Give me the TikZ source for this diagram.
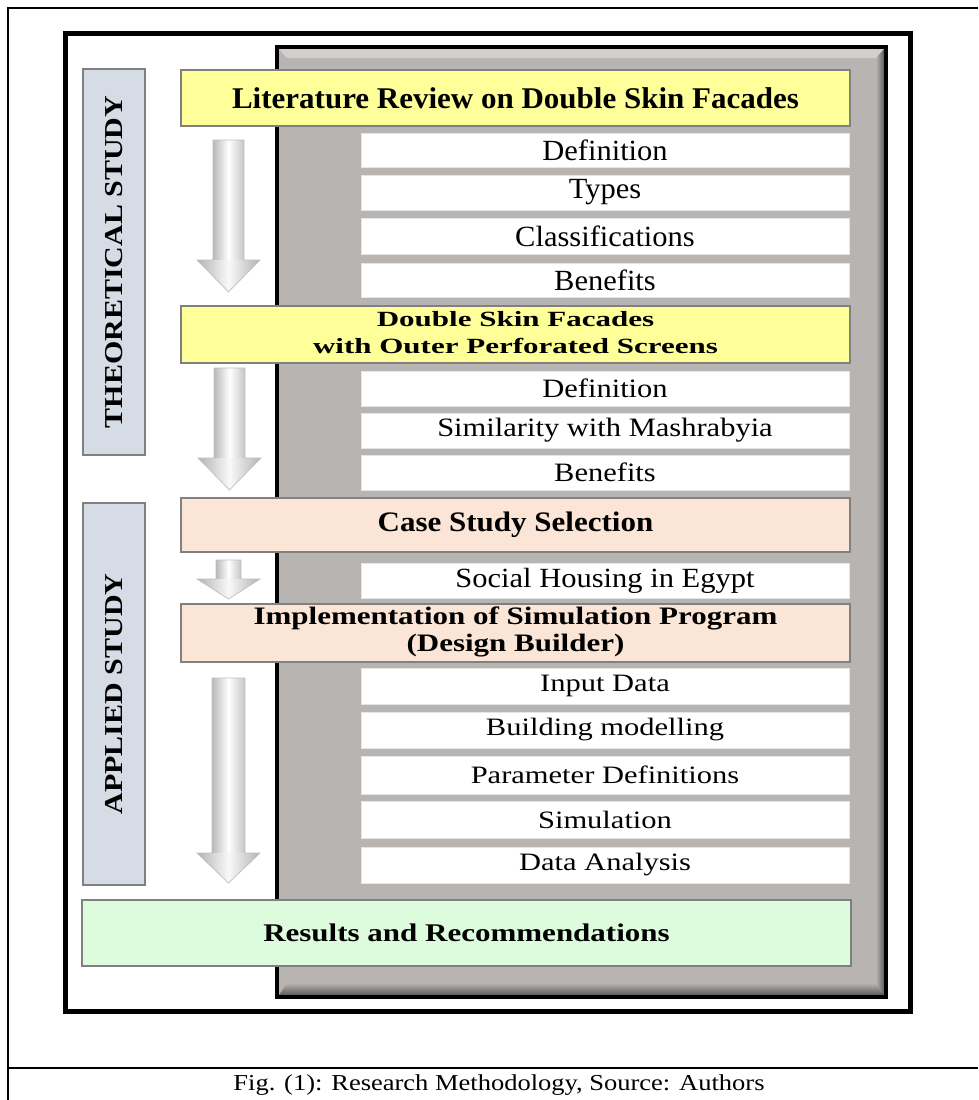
\documentclass[tikz,border=0pt]{standalone}
\usepackage{fontspec}
\setmainfont{Liberation Serif}
\usepackage{graphicx}
\definecolor{panelgray}{HTML}{B8B4B2}
\definecolor{panellight}{HTML}{D2CFCE}
\definecolor{paneldark}{HTML}{5E5C5B}
\definecolor{ylw}{HTML}{FFFF99}
\definecolor{peach}{HTML}{FBE5D6}
\definecolor{mint}{HTML}{DDFBDD}
\definecolor{sideblue}{HTML}{D6DCE5}
\definecolor{edgegray}{HTML}{808080}
\newcommand\vsq[2]{\scalebox{1}[#1]{#2}}
% block arrow: cx, top, head start, tip, shaft half width
\newcommand\blkarrow[5]{%
  \shade[left color=gray!55, right color=gray!45, middle color=white]
    (#1-#5,#2) rectangle (#1+#5,#3);
  \shade[left color=gray!60, right color=gray!60, middle color=white!95!gray]
    (#1-31.5,#3) -- (#1+31.5,#3) -- (#1,#4) -- cycle;
  \draw[gray!50, line width=0.7pt, line join=miter]
    (#1-#5,#2) -- (#1+#5,#2) -- (#1+#5,#3) -- (#1+31.5,#3) -- (#1,#4)
    -- (#1-31.5,#3) -- (#1-#5,#3) -- cycle;}
\begin{document}
\begin{tikzpicture}[x=1pt,y=-1pt,
  headbox/.style={draw=edgegray, line width=2pt, inner sep=0pt, align=center,
    font=\fontsize{31}{33}\selectfont\bfseries},
  itembox/.style={draw=gray!20, fill=white, line width=0.8pt, inner sep=0pt,
    minimum width=488pt, font=\fontsize{30.5}{33}\selectfont},
  sidebox/.style={draw=edgegray, fill=sideblue, line width=2pt, inner sep=0pt,
    rotate=90, minimum height=62pt, font=\fontsize{30}{32}\selectfont\bfseries},
]
\useasboundingbox (0,0) rectangle (978,1100);
% page / table frame
\draw[line width=1.8pt] (978,8) -- (8,8) -- (8,1100);
\draw[line width=1.8pt] (8,1068) -- (978,1068);
\node[font=\fontsize{26.5}{28}\selectfont] (cap) at (499,1085)
  {\vsq{0.86}{Fig. (1): Research Methodology, Source: Authors}};
% thick frame
\draw[line width=5pt] (65.5,33.5) rectangle (910,1011.5);
% gray panel with bevel
\fill[panelgray] (277,47) rectangle (886,997);
\fill[panellight] (279,49) -- (884,49) -- (876,58) -- (287,58) -- cycle;
\shade[left color=panelgray, right color=paneldark]
  (876,58) -- (884,49) -- (884,995) -- (876,983) -- cycle;
\shade[top color=panelgray, bottom color=paneldark]
  (279,995) -- (884,995) -- (876,983) -- (287,983) -- cycle;
\draw[line width=3.5pt] (277,47) rectangle (886,997);
% side labels
\node[sidebox, minimum width=386pt] (theo) at (114,262)
  {\vsq{0.86}{THEORETICAL STUDY}};
\node[sidebox, minimum width=382pt] (appl) at (114,694)
  {\vsq{0.86}{APPLIED STUDY}};
% arrows
\blkarrow{228.5}{140}{260}{292}{15.5}
\blkarrow{229.5}{368}{458}{490}{15.5}
\blkarrow{228.5}{560}{579}{599}{12.5}
\blkarrow{228.5}{678}{853}{883}{16.5}
% theoretical part
\node[headbox, fill=ylw, minimum width=669pt, minimum height=56pt] (lit) at (515.5,98)
  {\vsq{0.97}{Literature Review on Double Skin Facades}};
\node[itembox, minimum height=34pt] (def1) at (605,150) {\vsq{0.96}{Definition}};
\node[itembox, minimum height=35pt] (typ1) at (605,192.5) {\vsq{0.96}{Types}};
\node[itembox, minimum height=36pt] (cls1) at (605,236) {\vsq{0.96}{Classifications}};
\node[itembox, minimum height=34pt] (ben1) at (605,280) {\vsq{0.96}{Benefits}};
\node[headbox, fill=ylw, minimum width=669pt, minimum height=57pt] (dsf) at (515.5,334.5)
  {\vsq{0.7}{\fontsize{31}{38.5}\selectfont\begin{tabular}{@{}c@{}}Double Skin Facades\\with Outer Perforated Screens\end{tabular}}};
\node[itembox, minimum height=35pt] (def2) at (605,388.5) {\vsq{0.87}{Definition}};
\node[itembox, minimum height=35pt] (sim2) at (605,430.5) {\vsq{0.87}{Similarity with Mashrabyia}};
\node[itembox, minimum height=35pt] (ben2) at (605,472.5) {\vsq{0.87}{Benefits}};
% applied part
\node[headbox, fill=peach, minimum width=669pt, minimum height=54pt] (cs) at (515.5,525)
  {\vsq{0.91}{Case Study Selection}};
\node[itembox, minimum height=35pt] (soc) at (605,580.5) {\vsq{0.91}{Social Housing in Egypt}};
\node[headbox, fill=peach, minimum width=669pt, minimum height=58pt] (impl) at (515.5,633)
  {\vsq{0.81}{\fontsize{31}{33}\selectfont\begin{tabular}{@{}c@{}}Implementation of Simulation Program\\(Design Builder)\end{tabular}}};
\node[itembox, minimum height=36pt] (inp) at (605,686) {\vsq{0.82}{Input Data}};
\node[itembox, minimum height=36pt] (bmod) at (605,730) {\vsq{0.82}{Building modelling}};
\node[itembox, minimum height=38pt] (par) at (605,775) {\vsq{0.82}{Parameter Definitions}};
\node[itembox, minimum height=37pt] (simu) at (605,819.5) {\vsq{0.82}{Simulation}};
\node[itembox, minimum height=36pt] (dat) at (605,865) {\vsq{0.82}{Data Analysis}};
% results
\node[headbox, fill=mint, minimum width=769pt, minimum height=66pt] (res) at (466.5,933)
  {\vsq{0.82}{Results and Recommendations}};
\end{tikzpicture}
\end{document}
